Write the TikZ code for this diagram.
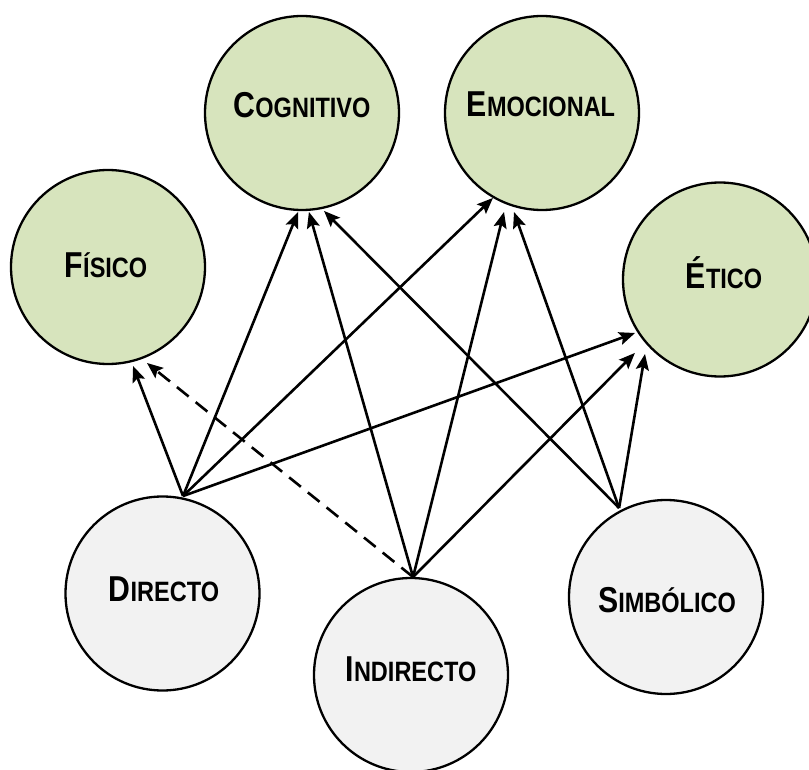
\documentclass[tikz,border=0pt]{standalone}
\usepackage{fontspec}
\setmainfont{Liberation Sans}[FakeStretch=0.84]
\usetikzlibrary{arrows.meta,calc}
\definecolor{vgreen}{HTML}{D7E4BD}
\definecolor{vgrey}{HTML}{F2F2F2}
\newcommand\smc[2]{{\fontsize{36}{40}\selectfont #1}{\fontsize{28}{32}\selectfont #2}}
\begin{document}
\begin{tikzpicture}[x=1pt,y=-1pt,
  circbase/.style={circle,draw=black,line width=2.3pt,minimum size=194pt,inner sep=0pt},
  gcirc/.style={circbase,fill=vgreen},
  ycirc/.style={circbase,fill=vgrey},
  lbl/.style={anchor=base,inner sep=0pt,font=\bfseries},
  arr/.style={line width=2.6pt,-{Stealth[length=16pt,width=13pt,inset=3pt]}},
  darr/.style={arr,dash pattern=on 15pt off 9pt}]
\useasboundingbox (0,0) rectangle (809,770);
% target circles
\node[gcirc] (cog) at (302,113) {};
\node[gcirc] (emo) at (542,113) {};
\node[gcirc] (fis) at (108,267) {};
\node[gcirc] (eti) at (720,279.5) {};
% source circles
\node[ycirc] (dir) at (162.5,593.5) {};
\node[ycirc] (ind) at (411,675) {};
\node[ycirc] (sim) at (666,597) {};
% labels
\node[lbl] (cogt) at (302,118) {\smc{C}{OGNITIVO}};
\node[lbl] (emot) at (541,117) {\smc{E}{MOCIONAL}};
\node[lbl] (fist) at (106,278) {\smc{F}{ÍSICO}};
\node[lbl] (etit) at (724,288) {\smc{É}{TICO}};
\node[lbl] (dirt) at (164,601) {\smc{D}{IRECTO}};
\node[lbl] (indt) at (411,681) {\smc{I}{NDIRECTO}};
\node[lbl] (simt) at (667,612) {\smc{S}{IMBÓLICO}};
% start points
\coordinate (dS) at ($(dir)+(78.1:99.6pt)$);
\coordinate (iS) at ($(ind)+(88.8:98pt)$);
\coordinate (sS) at ($(sim)+(117.8:100.6pt)$);
% arrows from Directo
\draw[arr] (dS) -- ($(fis)+(-75.8:102.1pt)$);
\draw[arr] (dS) -- ($(cog)+(-92.3:99.1pt)$);
\draw[arr] (dS) -- ($(emo)+(-120:98.1pt)$);
\draw[arr] (dS) -- ($(eti)+(-147.8:100.4pt)$);
% arrows from Indirecto
\draw[darr] (iS) -- ($(fis)+(-67.9:103.6pt)$);
\draw[arr] (iS) -- ($(cog)+(-86:99.2pt)$);
\draw[arr] (iS) -- ($(emo)+(-111:106pt)$);
\draw[arr] (iS) -- ($(eti)+(-139.2:112.4pt)$);
% arrows from Simbolico
\draw[arr] (sS) -- ($(cog)+(-77.3:100.4pt)$);
\draw[arr] (sS) -- ($(emo)+(-105.8:102.9pt)$);
\draw[arr] (sS) -- ($(eti)+(-135.2:105.7pt)$);
\end{tikzpicture}
\end{document}
